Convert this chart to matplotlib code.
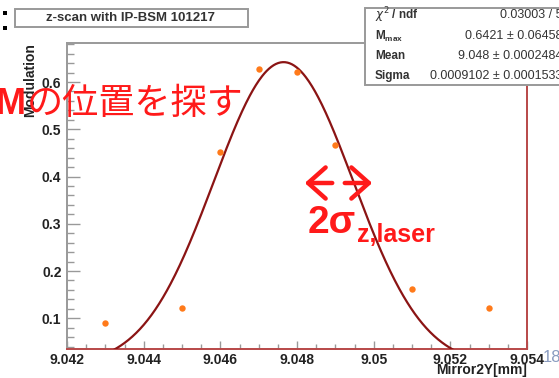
import numpy as np
import matplotlib
matplotlib.use("Agg")
import matplotlib.pyplot as plt
from matplotlib.patches import Rectangle, FancyArrowPatch

# z-scan measurement points
mirror_pos = [9.043, 9.045, 9.046, 9.047, 9.048, 9.049, 9.051, 9.053]
modulation = [0.089, 0.122, 0.452, 0.627, 0.622, 0.467, 0.162, 0.121]

# Gaussian fit result (width parameter is 2*sigma)
fit_mmax = 0.6421
fit_mmax_err = 0.06458
fit_mean = 9.04765
fit_mean_err = 0.0002484
fit_sigma = 0.0009102
fit_sigma_err = 0.0001533
fit_chi2 = 0.03003
fit_ndf = 5

x_ticks = [9.042, 9.044, 9.046, 9.048, 9.050, 9.052, 9.054]
x_ticklabels = ["9.042", "9.044", "9.046", "9.048", "9.05", "9.052", "9.054"]
y_ticks = [0.1, 0.2, 0.3, 0.4, 0.5, 0.6]
y_ticklabels = ["0.1", "0.2", "0.3", "0.4", "0.5", "0.6"]

W, H = 559, 378
fig = plt.figure(figsize=(W / 100, H / 100), dpi=100)
fig.patch.set_facecolor("white")

def fx(px):
    return px / W

def fy(py):
    return 1 - py / H

ax = fig.add_axes([fx(67), fy(349), (527 - 67) / W, (349 - 43) / H])
ax.set_xlim(9.042, 9.054)
ax.set_ylim(0.035, 0.6826)

xs = np.linspace(9.042, 9.054, 600)
ys = fit_mmax * np.exp(-(xs - fit_mean) ** 2 / (8 * fit_sigma ** 2))
ax.plot(xs, ys, color="#8b1414", lw=1.6, zorder=3)
ax.plot(mirror_pos, modulation, "o", color="#ff7a1a", ms=4.6, mec="none", zorder=4)

ax.set_xticks(x_ticks)
ax.set_xticklabels(x_ticklabels)
ax.set_yticks(y_ticks)
ax.set_yticklabels(y_ticklabels)
ax.set_xticks(np.arange(9.042, 9.0541, 0.0005), minor=True)
ax.set_yticks(np.arange(0.04, 0.681, 0.02), minor=True)
ax.tick_params(axis="x", which="major", direction="in", length=6, width=1.0,
               color="#999999", pad=3, labelsize=10, labelcolor="#222222")
ax.tick_params(axis="x", which="minor", direction="in", length=3.5, width=1.0, color="#999999")
ax.tick_params(axis="y", which="major", direction="in", length=9.5, width=1.0,
               color="#999999", pad=4, labelsize=10, labelcolor="#222222")
ax.tick_params(axis="y", which="minor", direction="in", length=5, width=1.0, color="#999999")
for lab in ax.get_xticklabels() + ax.get_yticklabels():
    lab.set_fontweight("bold")
    lab.set_family("Liberation Sans")

ax.spines["left"].set_color("#999999")
ax.spines["top"].set_color("#999999")
ax.spines["bottom"].set_color("#b84848")
ax.spines["right"].set_color("#b84848")
for s in ax.spines.values():
    s.set_linewidth(1.4)

# axis titles
fig.text(fx(30), fy(43), "Modulation", rotation=90, ha="center", va="top",
         fontsize=10, fontweight="bold", color="#222222", family="Liberation Sans")
fig.text(fx(527), fy(374), "Mirror2Y[mm]", ha="right", va="baseline",
         fontsize=10, fontweight="bold", color="#222222", family="Liberation Sans")

# title box
fig.patches.append(Rectangle((fx(15), fy(27)), fx(233), (27 - 9) / H,
                             transform=fig.transFigure, facecolor="white",
                             edgecolor="#999999", lw=1.4, zorder=5))
fig.text(fx(131), fy(18), "z-scan with IP-BSM 101217", ha="center", va="center",
         fontsize=9.5, fontweight="bold", color="#333333", family="Liberation Sans", zorder=6)

# stats box
fig.patches.append(Rectangle((fx(365), fy(85)), fx(400), (85 - 8) / H,
                             transform=fig.transFigure, facecolor="white",
                             edgecolor="#999999", lw=1.4, zorder=5))
stat_labels = [r"$\chi^{2}$ / ndf", r"M$_{\mathregular{max}}$", "Mean", "Sigma"]
stat_values = [
    f"{fit_chi2:.5g} / {fit_ndf}",
    f"{fit_mmax:.4g} \u00b1 {fit_mmax_err:.4g}",
    f"{fit_mean:.4g} \u00b1 {fit_mean_err:.4g}",
    f"{fit_sigma:.4g} \u00b1 {fit_sigma_err:.4g}",
]
rows_y = [15, 36, 56, 76]
for lab, val, ry in zip(stat_labels, stat_values, rows_y):
    fig.text(fx(375), fy(ry), lab, ha="left", va="center", fontsize=8.5,
             fontweight="bold", color="#333333", family="Liberation Sans", zorder=6)
    fig.text(fx(562), fy(ry), val, ha="right", va="center", fontsize=9,
             color="#333333", family="Liberation Sans", zorder=6)

# slide annotations
fig.text(fx(26), fy(104), "M", ha="right", va="center", fontsize=26,
         fontweight="bold", color="#ff1a1a", family="Liberation Sans", zorder=7)
fig.text(fx(27), fy(104), "の位置を探す", ha="left", va="center", fontsize=26,
         color="#ff1a1a", family=["Noto Sans CJK JP", "DejaVu Sans"], zorder=7)

for (x0, x1) in [(335, 302), (342, 375)]:
    fig.add_artist(FancyArrowPatch(
        (fx(x0), fy(183)), (fx(x1), fy(183)), transform=fig.transFigure,
        arrowstyle="->,head_length=0.45,head_width=0.4", mutation_scale=28,
        color="#ff1a1a", lw=3.2, zorder=7))

fig.text(fx(308), fy(233), "2\u03c3", ha="left", va="baseline", fontsize=28,
         fontweight="bold", color="#ff1a1a", family="Liberation Sans", zorder=7)
fig.text(fx(357), fy(242), "z,laser", ha="left", va="baseline", fontsize=18,
         fontweight="bold", color="#ff1a1a", family="Liberation Sans", zorder=7)

# page number
fig.text(fx(552), fy(357), "18", ha="center", va="center", fontsize=12,
         color="#8a9cc0", family="Liberation Sans", zorder=7)

# bullet marks at the slide edge
for by in [13, 28]:
    fig.patches.append(Rectangle((fx(3), fy(by + 2)), fx(4), 4 / H,
                                 transform=fig.transFigure, facecolor="black",
                                 edgecolor="none", zorder=7))

fig.savefig("out.png", dpi=100)
